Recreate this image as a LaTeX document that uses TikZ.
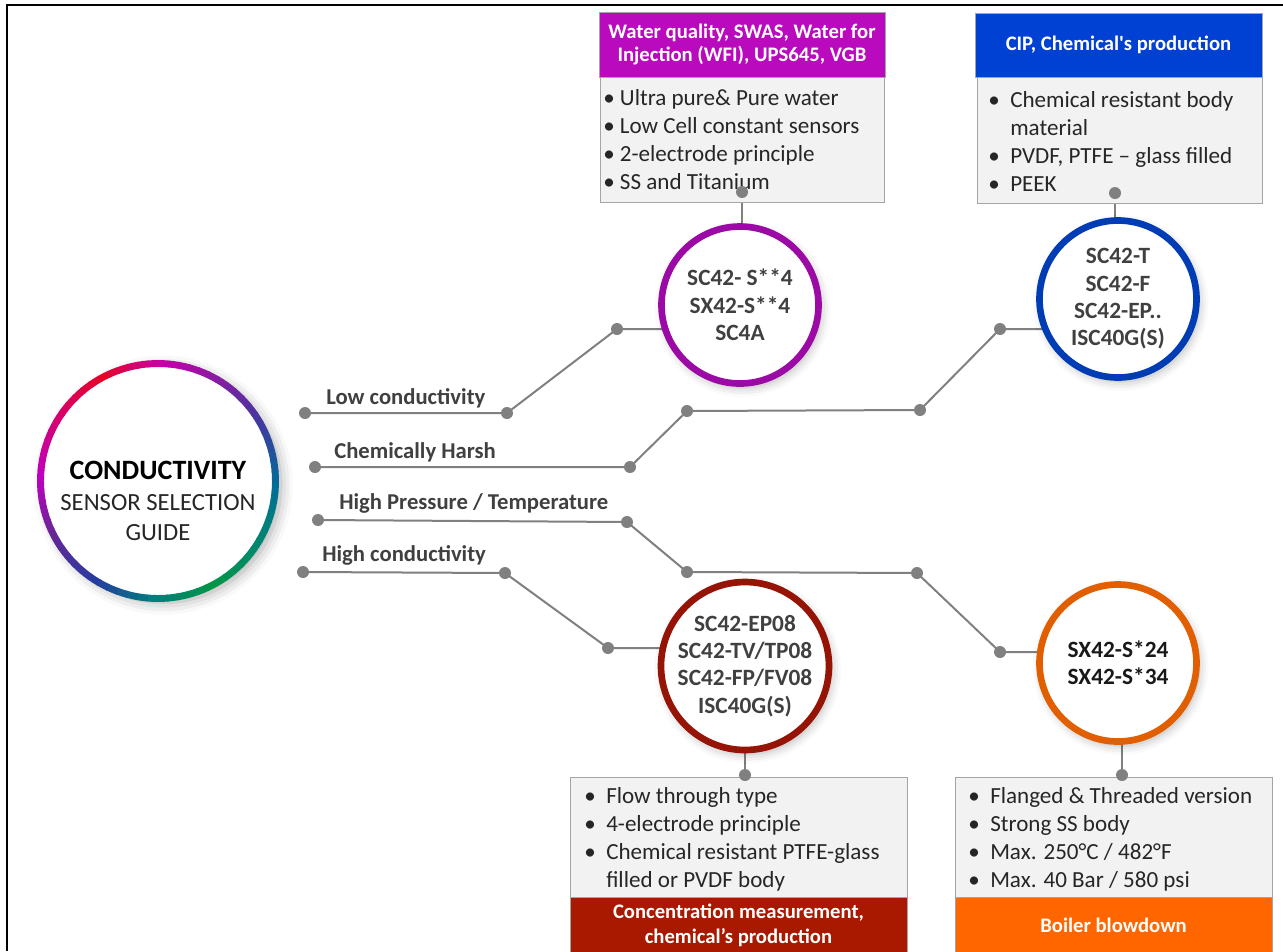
\documentclass[tikz,border=0pt]{standalone}
\usepackage{fontspec}
\setmainfont{Carlito}
\usetikzlibrary{shadows.blur}

\definecolor{lineGray}{RGB}{128,128,128}
\definecolor{txtGray}{RGB}{64,64,64}
\definecolor{boxGray}{RGB}{242,242,242}
\definecolor{boxLine}{RGB}{165,165,165}
\definecolor{lowRing}{RGB}{155,10,165}
\definecolor{lowHead}{RGB}{185,10,190}
\definecolor{chemRing}{RGB}{0,60,180}
\definecolor{chemHead}{RGB}{0,64,210}
\definecolor{highRing}{RGB}{150,20,5}
\definecolor{highHead}{RGB}{168,25,0}
\definecolor{presRing}{RGB}{225,95,0}
\definecolor{presHead}{RGB}{255,102,0}
% colours round the guide ring, clockwise from the right
\definecolor{rg0}{RGB}{0,110,150}
\definecolor{rg1}{RGB}{0,135,110}
\definecolor{rg2}{RGB}{0,150,70}
\definecolor{rg3}{RGB}{0,125,125}
\definecolor{rg4}{RGB}{40,60,160}
\definecolor{rg5}{RGB}{100,40,150}
\definecolor{rg6}{RGB}{190,0,190}
\definecolor{rg7}{RGB}{215,0,110}
\definecolor{rg8}{RGB}{230,0,40}
\definecolor{rg9}{RGB}{200,0,170}
\definecolor{rg10}{RGB}{130,30,160}
\definecolor{rg11}{RGB}{60,60,160}

\tikzset{
  branch/.style={draw=lineGray, line width=1.5pt},
  dot/.style={circle, fill=lineGray, inner sep=0pt, minimum size=9pt},
  sensor/.style={circle, draw=#1, line width=5pt, fill=white, minimum size=117.75pt,
    inner sep=0pt, align=center, font=\fontsize{17.5}{20.5}\selectfont\bfseries, text=txtGray,
    blur shadow={shadow xshift=2pt, shadow yshift=-3pt, shadow blur radius=7pt, shadow opacity=30}},
  hdr/.style={fill=#1, draw=boxLine, text=white, align=center, inner sep=0pt,
    font=\fontsize{15.5}{17}\selectfont\bfseries},
  body/.style={fill=boxGray, draw=boxLine, inner sep=0pt},
  blist/.style={anchor=west, align=left, inner sep=0pt, text=black!85,
    font=\fontsize{17.3}{21}\selectfont},
  lbl/.style={anchor=west, inner sep=0pt, text=txtGray, font=\fontsize{17}{19}\selectfont\bfseries}
}
\newcommand\bitem[1]{\makebox[16.5pt][l]{\textbullet}#1}

\begin{document}
\begin{tikzpicture}[x=0.75pt,y=-0.75pt]
\useasboundingbox (0,0) rectangle (1283,951);
\draw[line width=1.6pt] (7,951) -- (7,5) -- (1283,5);

% branch points
\coordinate (lowA) at (305,413);
\coordinate (lowB) at (507,413);
\coordinate (lowC) at (617,329);
\coordinate (chemA) at (315,467);
\coordinate (chemB) at (630,467);
\coordinate (chemC) at (687,411);
\coordinate (chemD) at (920,410);
\coordinate (chemE) at (1000,329);
\coordinate (presA) at (318,520);
\coordinate (presB) at (627,522);
\coordinate (presC) at (687,572);
\coordinate (presD) at (917,573);
\coordinate (presE) at (1000,652);
\coordinate (highA) at (303,572);
\coordinate (highB) at (505,573);
\coordinate (highC) at (608,648);
\coordinate (lowT) at (742,192);
\coordinate (chemT) at (1115,193);
\coordinate (highT) at (745,775);
\coordinate (presT) at (1122,775);
% circle centres
\coordinate (cLow) at (740,305);
\coordinate (cChem) at (1118,299);
\coordinate (cHigh) at (745,666);
\coordinate (cPres) at (1118,663);

% branches
\draw[branch] (lowA) -- (lowB) -- (lowC) -- (lowC -| cLow);
\draw[branch] (chemA) -- (chemB) -- (chemC) -- (chemD) -- (chemE) -- (chemE -| cChem);
\draw[branch] (presA) -- (presB) -- (presC) -- (presD) -- (presE) -- (presE -| cPres);
\draw[branch] (highA) -- (highB) -- (highC) -- (highC -| cHigh);
\draw[branch] (lowT) -- (lowT |- cLow);
\draw[branch] (chemT) -- (chemT |- cChem);
\draw[branch] (highT) -- (highT |- cHigh);
\draw[branch] (presT) -- (presT |- cPres);

\node[lbl] (lblLow) at (326,398) {Low conductivity};
\node[lbl] (lblChem) at (334,452) {Chemically Harsh};
\node[lbl] (lblPres) at (339,503) {High Pressure / Temperature};
\node[lbl] (lblHigh) at (322,555) {High conductivity};

% guide circle
\node[circle, fill=white, minimum size=176.25pt, inner sep=0pt,
  blur shadow={shadow xshift=4pt, shadow yshift=-3pt, shadow blur radius=9pt, shadow opacity=35}]
  (guide) at (158,481) {};
\foreach \a/\ca/\cb in {0/rg0/rg1, 30/rg1/rg2, 60/rg2/rg3, 90/rg3/rg4, 120/rg4/rg5, 150/rg5/rg6,
    180/rg6/rg7, 210/rg7/rg8, 240/rg8/rg9, 270/rg9/rg10, 300/rg10/rg11, 330/rg11/rg0}
  \foreach \i in {0,...,5}{
    \pgfmathtruncatemacro\mix{100-\i*100/6}
    \draw[line width=5.2pt, draw=\ca!\mix!\cb] (guide.center) ++(\a+\i*5:117.5)
      arc[start angle=\a+\i*5, delta angle=5.6, radius=117.5];
  }
\node[align=center, inner sep=0pt, font=\fontsize{18.5}{23}\selectfont, text=black!85]
  (guideTxt) at (158,501) {{\fontsize{21}{23}\selectfont\bfseries\color{black}CONDUCTIVITY}\\SENSOR SELECTION\\GUIDE};

% sensors
\node[sensor=lowRing] (sLow) at (cLow) {SC42- S**4\\SX42-S**4\\SC4A};
\node[sensor=chemRing] (sChem) at (cChem) {SC42-T\\SC42-F\\SC42-EP..\\ISC40G(S)};
\node[sensor=highRing] (sHigh) at (cHigh) {SC42-EP08\\SC42-TV/TP08\\SC42-FP/FV08\\ISC40G(S)};
\node[sensor=presRing, text=black!90] (sPres) at (cPres) {SX42-S*24\\SX42-S*34};

% application boxes
\node[hdr=lowHead, minimum width=214.5pt, minimum height=48.75pt] (hLow) at (742,44.5)
  {Water quality, SWAS, Water for\\Injection (WFI), UPS645, VGB};
\node[body, minimum width=213pt, minimum height=93.75pt] (bLow) at (742,139.5) {};
\node[blist] (tLow) at (603,140) {\textbullet\ Ultra pure\& Pure water\\\textbullet\ Low Cell constant sensors\\
  \textbullet\ 2-electrode principle\\\textbullet\ SS and Titanium};

\node[hdr=chemHead, minimum width=215.25pt, minimum height=48pt] (hChem) at (1118.5,45)
  {CIP, Chemical\textquotesingle s production};
\node[body, minimum width=213.75pt, minimum height=94.5pt] (bChem) at (1119.5,140) {};
\node[blist] (tChem) at (988,141) {\bitem{Chemical resistant body}\\\hspace*{16.5pt}material\\
  \bitem{PVDF, PTFE -- glass filled}\\\bitem{PEEK}};

\node[body, minimum width=252.75pt, minimum height=90pt] (bHigh) at (738.5,837) {};
\node[hdr=highHead, minimum width=252.75pt, minimum height=42pt, font=\fontsize{15.5}{18.75}\selectfont\bfseries]
  (hHigh) at (738.5,925) {Concentration measurement,\\chemical’s production};
\node[blist] (tHigh) at (584,839) {\bitem{Flow through type}\\\bitem{4-electrode principle}\\
  \bitem{Chemical resistant PTFE-glass}\\\hspace*{16.5pt}filled or PVDF body};

\node[body, minimum width=237.75pt, minimum height=90pt] (bPres) at (1113.5,837) {};
\node[hdr=presHead, minimum width=237.75pt, minimum height=42pt] (hPres) at (1113.5,925) {Boiler blowdown};
\node[blist] (tPres) at (968,839) {\bitem{Flanged \& Threaded version}\\\bitem{Strong SS body}\\
  \bitem{Max. 250°C / 482°F}\\\bitem{Max. 40 Bar / 580 psi}};

% dots
\foreach \p in {lowA,lowB,lowC,chemA,chemB,chemC,chemD,chemE,presA,presB,presC,presD,presE,
    highA,highB,highC,lowT,chemT,highT,presT}
  \node[dot] (dot-\p) at (\p) {};
\end{tikzpicture}
\end{document}
